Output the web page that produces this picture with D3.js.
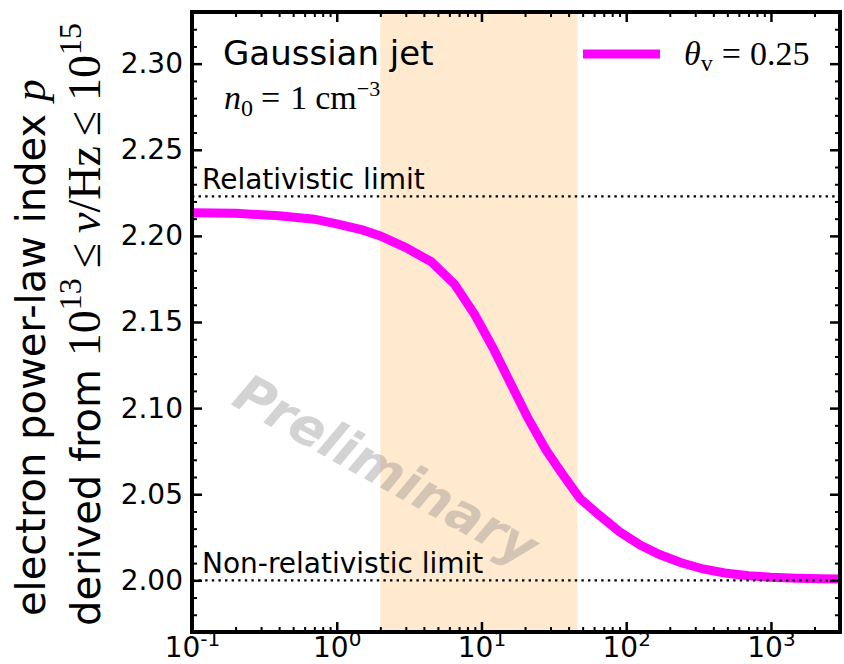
<!DOCTYPE html>
<html>
<head>
<meta charset="utf-8">
<script src="https://cdn.jsdelivr.net/npm/d3@7"></script>
<style>
  html, body { margin: 0; padding: 0; background: #fff; }
  svg { display: block; }
</style>
</head>
<body>
<svg id="chart" width="844" height="664"></svg>
<script>
// Observing frequency (Hz, log axis) and the derived electron power-law index p
const nuObs = [0.1, 0.2, 0.4, 0.7, 1.0, 1.5, 2.0, 3.0, 4.5, 6.5, 9, 12, 16, 21, 28, 37, 48,
               65, 90, 125, 170, 240, 340, 480, 700, 1000, 1500, 2200, 3000];
const pIndex = [2.2135, 2.2131, 2.2117, 2.2097, 2.2070, 2.2035, 2.2000, 2.1932, 2.1850,
                2.1720, 2.1542, 2.1350, 2.1139, 2.0940, 2.0755, 2.0606, 2.0474, 2.0379,
                2.0282, 2.0205, 2.0150, 2.0102, 2.0066, 2.0043, 2.0027, 2.0018, 2.0012,
                2.0009, 2.0008];

// Shaded frequency window
const bandRange = [2, 46];

// Asymptotic limits of p
const limitValues = [2.223, 2.0];
const limitLabels = ["Relativistic limit", "Non-relativistic limit"];

// Axis ticks
const yMajorTicks = [2.00, 2.05, 2.10, 2.15, 2.20, 2.25, 2.30];
const yTickLabels = ["2.00", "2.05", "2.10", "2.15", "2.20", "2.25", "2.30"];
const yMinorTicks = [1.97, 1.98, 1.99, 2.01, 2.02, 2.03, 2.04, 2.06, 2.07, 2.08, 2.09,
                     2.11, 2.12, 2.13, 2.14, 2.16, 2.17, 2.18, 2.19, 2.21, 2.22, 2.23, 2.24,
                     2.26, 2.27, 2.28, 2.29, 2.31, 2.32, 2.33];
const xMajorExps = [-1, 0, 1, 2, 3];
const xMinorTicks = [0.2, 0.3, 0.4, 0.5, 0.6, 0.7, 0.8, 0.9,
                     2, 3, 4, 5, 6, 7, 8, 9,
                     20, 30, 40, 50, 60, 70, 80, 90,
                     200, 300, 400, 500, 600, 700, 800, 900,
                     2000, 3000];

const seriesLabel = { sym: "θ", sub: "v", rest: "= 0.25" };

const W = 844, H = 664;
const m = { left: 192, right: 4, top: 12, bottom: 32 };
const x0 = m.left, x1 = W - m.right, y0 = m.top, y1 = H - m.bottom;

const svg = d3.select("#chart");
const x = d3.scaleLog().domain([0.1, 3000]).range([x0, x1]);
const y = d3.scaleLinear().domain([1.97, 2.33]).range([y1, y0]);

const SANS = "DejaVu Sans";
const SERIF = "Liberation Serif, DejaVu Serif, serif";

svg.append("defs").append("clipPath").attr("id", "plotclip")
  .append("rect").attr("x", x0).attr("y", y0).attr("width", x1 - x0).attr("height", y1 - y0);

const plot = svg.append("g").attr("clip-path", "url(#plotclip)");

// shaded window
plot.append("rect")
  .attr("x", x(bandRange[0])).attr("y", y0)
  .attr("width", x(bandRange[1]) - x(bandRange[0])).attr("height", y1 - y0)
  .attr("fill", "#ffe9cf");

// p(nu) curve
const line = d3.line().x((d, i) => x(nuObs[i])).y(d => y(d));
plot.append("path")
  .datum(pIndex)
  .attr("d", line)
  .attr("fill", "none")
  .attr("stroke", "#ff00ff")
  .attr("stroke-width", 9)
  .attr("stroke-linejoin", "miter");

// limit lines
plot.selectAll("line.limit").data(limitValues).join("line")
  .attr("class", "limit")
  .attr("x1", x0).attr("x2", x1)
  .attr("y1", d => y(d)).attr("y2", d => y(d))
  .attr("stroke", "#000").attr("stroke-width", 2.2)
  .attr("stroke-dasharray", "2.4 4.2");

// watermark
plot.append("text")
  .attr("transform", "translate(386,470) rotate(29)")
  .attr("text-anchor", "middle")
  .attr("dominant-baseline", "central")
  .attr("font-family", SANS)
  .attr("font-weight", "bold")
  .attr("font-style", "oblique")
  .attr("font-size", 52)
  .attr("fill", "#808080")
  .attr("fill-opacity", 0.35)
  .text("Preliminary");

// limit labels
svg.selectAll("text.limlab").data(limitValues).join("text")
  .attr("class", "limlab")
  .attr("x", 202)
  .attr("y", d => y(d) - 7)
  .attr("font-family", SANS)
  .attr("font-size", 28)
  .attr("fill", "#000")
  .text((d, i) => limitLabels[i]);

// model description
svg.append("text")
  .attr("x", 223).attr("y", 65)
  .attr("font-family", SANS).attr("font-size", 34)
  .text("Gaussian jet");

const nt = svg.append("text")
  .attr("x", 224).attr("y", 109)
  .attr("font-family", SERIF).attr("font-size", 34);
nt.append("tspan").attr("font-style", "italic").text("n");
nt.append("tspan").attr("font-size", 24).attr("dy", 7).text("0");
nt.append("tspan").attr("dy", -7).attr("dx", 8).text("=");
nt.append("tspan").attr("dx", 10).text("1");
nt.append("tspan").attr("dx", 8).text("cm");
nt.append("tspan").attr("font-size", 22).attr("dy", -13).text("−3");

// legend
svg.append("line")
  .attr("x1", 583).attr("x2", 660).attr("y1", 54).attr("y2", 54)
  .attr("stroke", "#ff00ff").attr("stroke-width", 9);
const lt = svg.append("text")
  .attr("x", 684).attr("y", 65)
  .attr("font-family", SERIF).attr("font-size", 34);
lt.append("tspan").attr("font-style", "italic").text(seriesLabel.sym);
lt.append("tspan").attr("font-size", 24).attr("dy", 6).text(seriesLabel.sub);
lt.append("tspan").attr("dy", -6).attr("dx", 9).text(seriesLabel.rest.slice(0, 1));
lt.append("tspan").attr("dx", 9).text(seriesLabel.rest.slice(2));

// axes: ticks point inward on all four sides
function styleAxis(g, width) {
  g.select(".domain").remove();
  g.selectAll(".tick line").attr("stroke", "#000").attr("stroke-width", width);
}

svg.append("g").attr("transform", `translate(${x0},0)`)
  .call(d3.axisLeft(y).tickValues(yMajorTicks).tickSize(-10).tickPadding(9)
        .tickFormat((d, i) => yTickLabels[i]))
  .call(g => styleAxis(g, 2.5))
  .call(g => g.selectAll(".tick text").attr("font-family", SANS).attr("font-size", 28).attr("fill", "#000"));
svg.append("g").attr("transform", `translate(${x0},0)`)
  .call(d3.axisLeft(y).tickValues(yMinorTicks).tickSize(-5).tickFormat(""))
  .call(g => styleAxis(g, 2));
svg.append("g").attr("transform", `translate(${x1},0)`)
  .call(d3.axisRight(y).tickValues(yMajorTicks).tickSize(-10).tickFormat(""))
  .call(g => styleAxis(g, 2.5));
svg.append("g").attr("transform", `translate(${x1},0)`)
  .call(d3.axisRight(y).tickValues(yMinorTicks).tickSize(-5).tickFormat(""))
  .call(g => styleAxis(g, 2));

const xMajor = xMajorExps.map(e => Math.pow(10, e));
svg.append("g").attr("transform", `translate(0,${y1})`)
  .call(d3.axisBottom(x).tickValues(xMajor).tickSize(-10).tickFormat(""))
  .call(g => styleAxis(g, 2.5))
  .call(g => g.selectAll(".tick").each(function (d, i) {
    const t = d3.select(this).append("text")
      .attr("y", 25).attr("text-anchor", "middle")
      .attr("font-family", SANS).attr("font-size", 28).attr("fill", "#000");
    t.append("tspan").text("10");
    t.append("tspan").attr("font-size", 20).attr("dy", -11).text(String(xMajorExps[i]));
  }));
svg.append("g").attr("transform", `translate(0,${y1})`)
  .call(d3.axisBottom(x).tickValues(xMinorTicks).tickSize(-5).tickFormat(""))
  .call(g => styleAxis(g, 2));
svg.append("g").attr("transform", `translate(0,${y0})`)
  .call(d3.axisTop(x).tickValues(xMajor).tickSize(-10).tickFormat(""))
  .call(g => styleAxis(g, 2.5));
svg.append("g").attr("transform", `translate(0,${y0})`)
  .call(d3.axisTop(x).tickValues(xMinorTicks).tickSize(-5).tickFormat(""))
  .call(g => styleAxis(g, 2));

// frame
svg.append("rect")
  .attr("x", x0).attr("y", y0).attr("width", x1 - x0).attr("height", y1 - y0)
  .attr("fill", "none").attr("stroke", "#000").attr("stroke-width", 4);

// y-axis label (two lines)
const yl1 = svg.append("text")
  .attr("transform", "translate(45,616) rotate(-90)")
  .attr("font-family", SANS).attr("font-size", 40).attr("fill", "#000");
yl1.append("tspan").text("electron power-law index ");
yl1.append("tspan").attr("font-family", SERIF).attr("font-style", "italic").attr("font-size", 44).text("p");

const yl2 = svg.append("text")
  .attr("transform", "translate(100,626) rotate(-90)")
  .attr("font-family", SANS).attr("font-size", 40).attr("fill", "#000");
yl2.append("tspan").text("derived from ");
const mathPart = (txt, opts = {}) => {
  const t = yl2.append("tspan").attr("font-family", SERIF).attr("font-size", opts.size || 46);
  if (opts.dy) t.attr("dy", opts.dy);
  if (opts.dx) t.attr("dx", opts.dx);
  if (opts.italic) t.attr("font-style", "italic");
  t.text(txt);
};
mathPart("10");
mathPart("13", { size: 32, dy: -19 });
mathPart("≤", { dy: 19, dx: 10 });
mathPart("ν", { italic: true, dx: 10 });
mathPart("/Hz");
mathPart("≤", { dx: 10 });
mathPart("10", { dx: 10 });
mathPart("15", { size: 32, dy: -19 });
</script>
</body>
</html>
